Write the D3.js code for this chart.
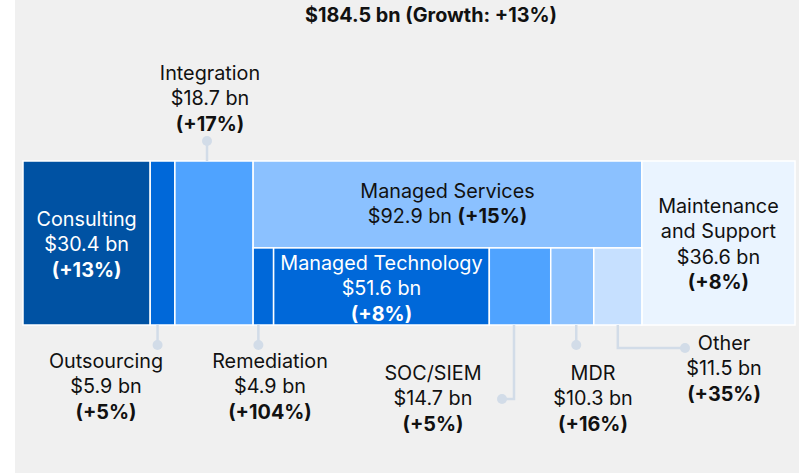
<!DOCTYPE html>
<html>
<head>
<meta charset="utf-8">
<script src="https://cdn.jsdelivr.net/npm/d3@7/dist/d3.min.js"></script>
<style>
  body { margin: 0; background: #fff; }
  svg text { font-family: Inter, "Noto Sans", sans-serif; }
</style>
</head>
<body>
<script>
// market split ----------------------------------------------------------------
var totalValue = 184.5;
var totalGrowth = "+13%";

var segments = ["Consulting", "Outsourcing", "Integration", "Managed Services", "Maintenance and Support"];
var segmentValues = [30.4, 5.9, 18.7, 92.9, 36.6];
var segmentGrowth = ["+13%", "+5%", "+17%", "+15%", "+8%"];

// pieces of managed services (bottom row inside it)
var managedParts = ["Remediation", "Managed Technology", "SOC/SIEM", "MDR", "Other"];
var managedValues = [4.9, 51.6, 14.7, 10.3, 11.5];
var managedGrowth = ["+104%", "+8%", "+5%", "+16%", "+35%"];

var svgWidth = 799;
var svgHeight = 473;

var fill = {
  "Consulting": "#0052a3",
  "Outsourcing": "#0068d9",
  "Integration": "#4fa3ff",
  "Managed Services": "#8bc1ff",
  "Maintenance and Support": "#eaf4ff",
  "Remediation": "#0068d9",
  "Managed Technology": "#0068d9",
  "SOC/SIEM": "#4fa3ff",
  "MDR": "#8bc1ff",
  "Other": "#c6e0ff"
};
var leaderColor = "#d2dce8";
var fontSize = "19.8px";

var svg = d3.select("body").append("svg")
  .attr("width", svgWidth)
  .attr("height", svgHeight);

// gray panel
svg.append("rect")
  .attr("x", 15).attr("y", 0)
  .attr("width", svgWidth - 15).attr("height", svgHeight)
  .attr("fill", "#f0f0f0");

// scales
var x = d3.scaleLinear().domain([0, totalValue]).range([23, 795]);
var y = d3.scaleLinear().domain([0, 1]).range([161, 325]);
var headerShare = 0.53; // managed services header band

var cum = d3.cumsum(segmentValues);
var segs = segments.map(function(name, i) {
  return { name: name, value: segmentValues[i], growth: segmentGrowth[i],
           x0: x(cum[i] - segmentValues[i]), x1: x(cum[i]) };
});
var ms = segs[3];

var xm = d3.scaleLinear().domain([0, d3.sum(managedValues)]).range([ms.x0, ms.x1]);
var mcum = d3.cumsum(managedValues);
var parts = managedParts.map(function(name, i) {
  return { name: name, value: managedValues[i], growth: managedGrowth[i],
           x0: xm(mcum[i] - managedValues[i]), x1: xm(mcum[i]) };
});

var g = svg.append("g");

// top level blocks (managed services gets only its header band)
g.selectAll("rect.seg")
  .data(segs)
  .enter().append("rect")
  .attr("class", "seg")
  .attr("x", function(d) { return d.x0; })
  .attr("y", y(0))
  .attr("width", function(d) { return d.x1 - d.x0; })
  .attr("height", function(d) { return d.name == "Managed Services" ? y(headerShare) - y(0) : y(1) - y(0); })
  .attr("fill", function(d) { return fill[d.name]; })
  .attr("stroke", "#fff")
  .attr("stroke-width", 1.5);

g.selectAll("rect.part")
  .data(parts)
  .enter().append("rect")
  .attr("class", "part")
  .attr("x", function(d) { return d.x0; })
  .attr("y", y(headerShare))
  .attr("width", function(d) { return d.x1 - d.x0; })
  .attr("height", y(1) - y(headerShare))
  .attr("fill", function(d) { return fill[d.name]; })
  .attr("stroke", "#fff")
  .attr("stroke-width", 1.5);

function bn(v) { return "$" + v.toFixed(1) + " bn"; }

// lines: array of [text, bold]
function label(cx, baseY, lines, color) {
  var t = svg.append("g");
  lines.forEach(function(l, i) {
    var txt = t.append("text")
      .attr("x", cx)
      .attr("y", baseY + i * 25.3)
      .attr("text-anchor", "middle")
      .attr("font-size", fontSize)
      .attr("fill", color || "#111");
    l.forEach(function(p) {
      txt.append("tspan").attr("font-weight", p[1] ? 700 : 400).text(p[0]);
    });
  });
}
function std(name, value, growth) {
  return [[[name, false]], [[bn(value), false]], [["(" + growth + ")", true]]];
}
function mid(d) { return (d.x0 + d.x1) / 2; }

// title
svg.append("text")
  .attr("x", 431).attr("y", 22)
  .attr("text-anchor", "middle")
  .attr("font-size", fontSize)
  .attr("font-weight", 700)
  .attr("fill", "#111")
  .text(bn(totalValue) + " (Growth: " + totalGrowth + ")");

// labels inside the blocks
label(mid(segs[0]), 226, std(segs[0].name, segs[0].value, segs[0].growth), "#fff");
label(mid(ms), 198, [[[ms.name, false]], [[bn(ms.value) + " ", false], ["(" + ms.growth + ")", true]]]);
label(mid(parts[1]), 270, std(parts[1].name, parts[1].value, parts[1].growth), "#fff");
label(mid(segs[4]), 213, [[["Maintenance", false]], [["and Support", false]], [[bn(segs[4].value), false]], [["(" + segs[4].growth + ")", true]]]);

// leader lines with dots
function leader(pts) {
  svg.append("path")
    .attr("d", d3.line()(pts))
    .attr("fill", "none")
    .attr("stroke", leaderColor)
    .attr("stroke-width", 2.5);
  var end = pts[pts.length - 1];
  svg.append("circle")
    .attr("cx", end[0]).attr("cy", end[1]).attr("r", 5)
    .attr("fill", leaderColor);
}

// integration above
leader([[mid(segs[2]) - 7, y(0)], [mid(segs[2]) - 7, 141]]);
label(210, 80, std(segs[2].name, segs[2].value, segs[2].growth));

// outsourcing + remediation below
leader([[mid(segs[1]) - 5, y(1)], [mid(segs[1]) - 5, 345]]);
label(106, 368, std(segs[1].name, segs[1].value, segs[1].growth));
leader([[mid(parts[0]) - 5, y(1)], [mid(parts[0]) - 5, 345]]);
label(270, 368, std(parts[0].name, parts[0].value, parts[0].growth));

// SOC/SIEM elbow to the left
var sx = mid(parts[2]) - 6;
leader([[sx, y(1)], [sx, 399], [sx - 12, 399]]);
label(433, 380, std(parts[2].name, parts[2].value, parts[2].growth));

// MDR
leader([[mid(parts[3]) + 4, y(1)], [mid(parts[3]) + 4, 345]]);
label(593, 380, std(parts[3].name, parts[3].value, parts[3].growth));

// Other elbow to the right
var ox = mid(parts[4]);
leader([[ox, y(1)], [ox, 348], [685, 348]]);
label(724, 350, std(parts[4].name, parts[4].value, parts[4].growth));
</script>
</body>
</html>
